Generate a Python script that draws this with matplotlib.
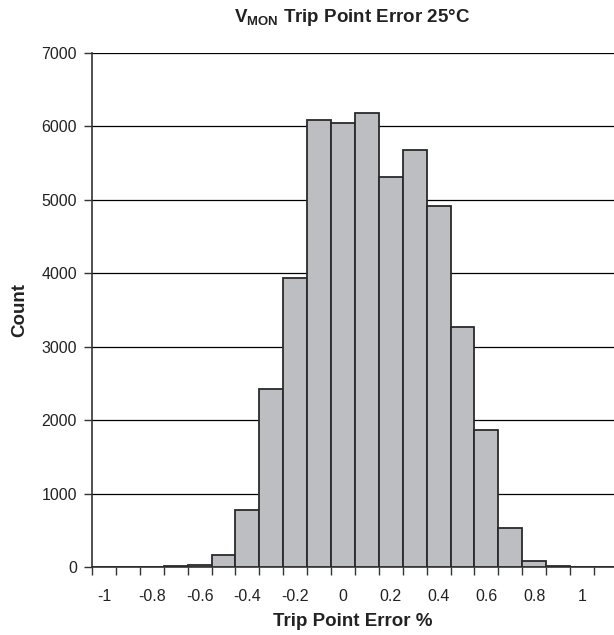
import numpy as np
import matplotlib
matplotlib.use("Agg")
import matplotlib.pyplot as plt

plt.rcParams['font.family'] = ['Liberation Sans', 'DejaVu Sans']
plt.rcParams['mathtext.fontset'] = 'custom'
plt.rcParams['mathtext.rm'] = 'Liberation Sans'
plt.rcParams['mathtext.bf'] = 'Liberation Sans:bold'

# bin centres (trip point error %) and counts
bins = [-1.0, -0.9, -0.8, -0.7, -0.6, -0.5, -0.4, -0.3, -0.2, -0.1, 0.0,
        0.1, 0.2, 0.3, 0.4, 0.5, 0.6, 0.7, 0.8, 0.9, 1.0, 1.1]
counts = [0, 0, 0, 12, 28, 160, 770, 2420, 3940, 6090, 6040,
          6180, 5310, 5670, 4920, 3270, 1860, 530, 80, 12, 0, 0]
tick_labels = ['-1', '-0.8', '-0.6', '-0.4', '-0.2', '0', '0.2', '0.4', '0.6', '0.8', '1']
label_pos = [-1.0, -0.8, -0.6, -0.4, -0.2, 0.0, 0.2, 0.4, 0.6, 0.8, 1.0]
yticks = [0, 1000, 2000, 3000, 4000, 5000, 6000, 7000]

fig = plt.figure(figsize=(6.14, 6.35), dpi=100)
ax = fig.add_axes([0.15, 0.107, 0.85, 0.81])

ax.bar(bins, counts, width=0.1, color='#bdbec2', edgecolor='#2a2a2a',
       linewidth=1.3, zorder=3)

ax.set_xlim(-1.05, 1.134)
ax.set_ylim(0, 7000)
ax.set_yticks(yticks)
ax.yaxis.grid(True, color='black', linewidth=0.9, zorder=0)

# tick marks on the bin edges, labels on the centres
edges = np.array(bins) - 0.05
ax.set_xticks(edges, minor=True)
ax.set_xticks(label_pos)
ax.set_xticklabels(tick_labels)
ax.tick_params(axis='x', which='major', length=0, pad=16, labelsize=11.5, labelcolor='#222222')
ax.tick_params(axis='x', which='minor', length=6, width=1, direction='out', color='#333333')
ax.tick_params(axis='y', length=6, width=1, direction='out', labelsize=11.5, pad=5,
               color='#333333', labelcolor='#222222')

for s in ['top', 'right']:
    ax.spines[s].set_visible(False)
ax.spines['left'].set_linewidth(1.2)
ax.spines['left'].set_color('#333333')
ax.spines['bottom'].set_linewidth(1.2)
ax.spines['bottom'].set_color('#333333')

ax.set_xlabel('Trip Point Error %', fontsize=13.5, fontweight='bold', labelpad=6,
              color='#222222')
ax.set_ylabel('Count', fontsize=13.5, fontweight='bold', labelpad=9, color='#222222')
fig.text(0.573, 0.972, r'$\mathbf{V_{MON}}$ Trip Point Error 25°C',
         ha='center', va='center', fontsize=13.5, fontweight='bold', color='#222222')

fig.savefig('out.png', dpi=100)
